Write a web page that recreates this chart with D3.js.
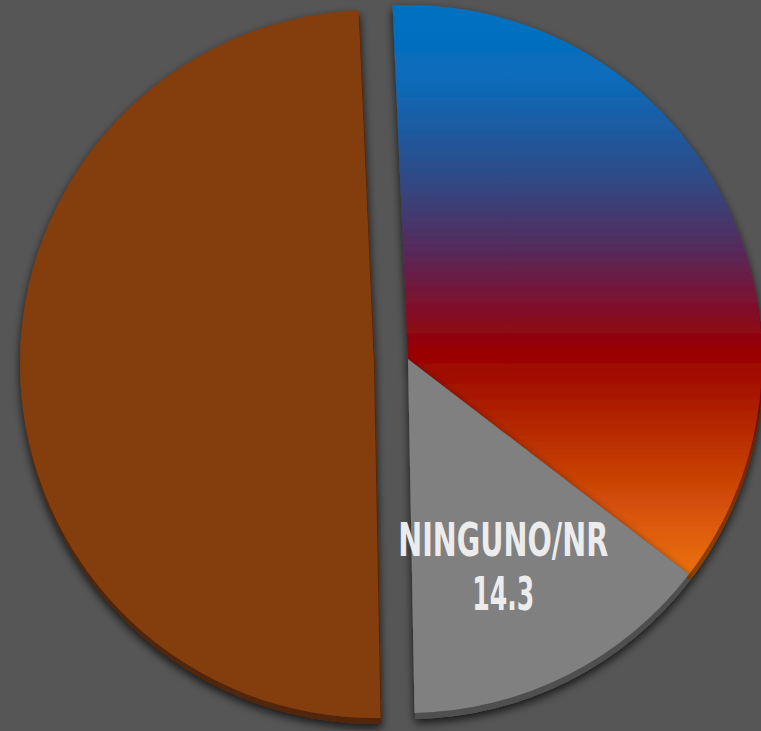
<!DOCTYPE html>
<html><head><meta charset="utf-8">
<script src="https://cdn.jsdelivr.net/npm/d3@7"></script>
<style>html,body{margin:0;padding:0;background:#565656;overflow:hidden}</style>
</head><body><svg id="c" width="761" height="731"></svg>
<script>
// ---- data ----
const categories = ["Opción A", "NINGUNO/NR", "Opción B"];
const values = [36.1, 14.3, 49.6];
const labelNames = ["", "NINGUNO/NR", ""];
const labelValues = ["", "14.3", ""];

// ---- layout ----
const W = 761, H = 731;
const R = 354;
const startDeg = -2.5;
const centers = [[408, 359], [408, 359], [374, 364]];
const svg = d3.select("#c");
svg.append("rect").attr("width", W).attr("height", H).attr("fill", "#565656");

const defs = svg.append("defs");
// gradient in the slice's local coordinates (origin = slice centre)
const gTop = 10 - centers[0][1], gBot = 570 - centers[0][1];
const grad = defs.append("linearGradient").attr("id", "g0")
  .attr("gradientUnits", "userSpaceOnUse").attr("x1", 0).attr("y1", gTop).attr("x2", 0).attr("y2", gBot);
[[0, "#0070C0"], [0.12, "#0a6cbc"], [0.3, "#2f4a86"], [0.43, "#56295a"], [0.52, "#7c1230"],
 [0.61, "#990000"], [0.75, "#b52a02"], [0.9, "#d85408"], [1, "#ea6f0a"]]
  .forEach(([o, c]) => grad.append("stop").attr("offset", o).attr("stop-color", c));

const f = defs.append("filter").attr("id", "sh").attr("x", "-10%").attr("y", "-10%").attr("width", "120%").attr("height", "120%");
f.append("feDropShadow").attr("dx", 0).attr("dy", 4).attr("stdDeviation", 5)
  .attr("flood-color", "#000").attr("flood-opacity", 0.75);

const fills = ["url(#g0)", "#808080", "#843C0C"];

const pie = d3.pie().sort(null).value(d => d)
  .startAngle(startDeg * Math.PI / 180).endAngle(startDeg * Math.PI / 180 + 2 * Math.PI);
const arcs = pie(values);
const arc = d3.arc().innerRadius(0).outerRadius(R);

const slices = svg.selectAll("g.slice").data(arcs).enter().append("g")
  .attr("class", "slice")
  .attr("transform", (d, i) => `translate(${centers[i][0]},${centers[i][1]})`)
  .attr("filter", "url(#sh)");

// extrusion (3D rim)
slices.append("path").attr("d", arc).attr("transform", "translate(1,6)")
  .attr("fill", (d, i) => fills[i]);
slices.append("path").attr("d", arc).attr("transform", "translate(1,6)")
  .attr("fill", "#000").attr("opacity", 0.38);
// top face
slices.append("path").attr("d", arc).attr("fill", (d, i) => fills[i]);

// label
const labelArc = d3.arc().innerRadius(229).outerRadius(229);
arcs.forEach((d, i) => {
  if (!labelNames[i]) return;
  const [x, y] = labelArc.centroid(d);
  const cx = centers[i][0] + x - 8, cy = centers[i][1] + y + 2;
  const t = svg.append("g").attr("font-family", "'DejaVu Sans Condensed','DejaVu Sans',sans-serif")
    .attr("font-weight", "bold").attr("fill", "#ececec").attr("text-anchor", "middle");
  t.append("text").attr("x", cx).attr("y", cy - 9).attr("font-size", 46)
    .attr("textLength", 210).attr("lengthAdjust", "spacingAndGlyphs").text(labelNames[i]);
  t.append("text").attr("x", cx).attr("y", cy + 45).attr("font-size", 46)
    .attr("textLength", 62).attr("lengthAdjust", "spacingAndGlyphs").text(labelValues[i]);
});
</script></body></html>
